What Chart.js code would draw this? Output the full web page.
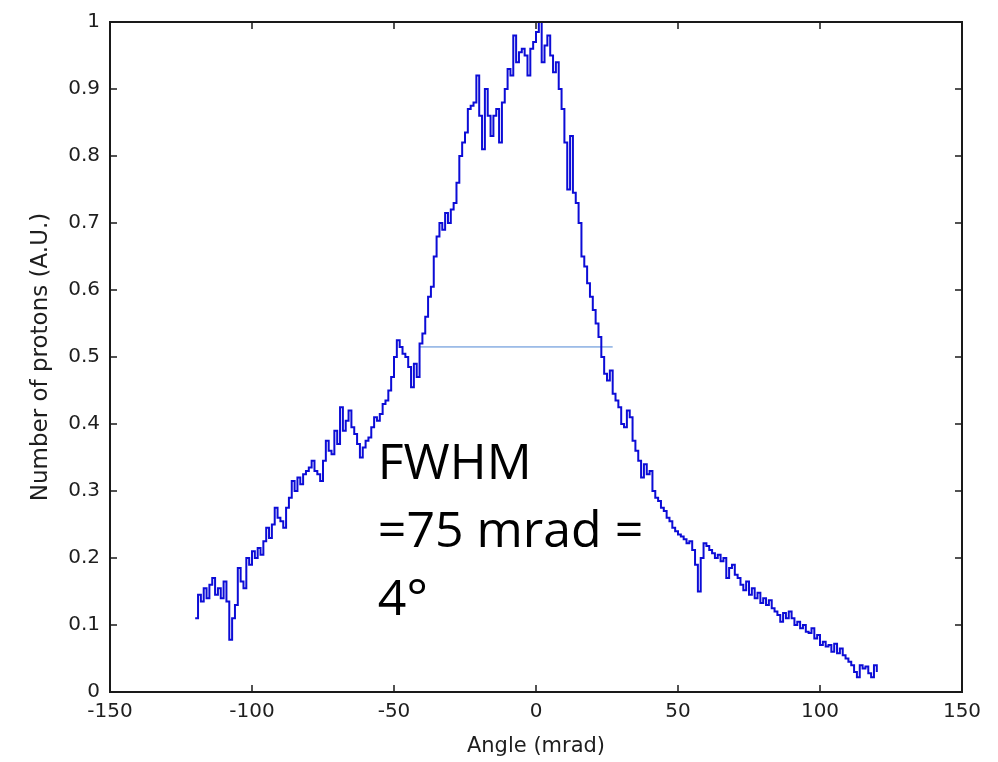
<!DOCTYPE html>
<html>
<head>
<meta charset="utf-8">
<script src="https://cdn.jsdelivr.net/npm/chart.js@4.4.1/dist/chart.umd.min.js"></script>
<style>
  html, body { margin: 0; padding: 0; background: #fff; }
  #wrap { width: 998px; height: 762px; position: relative; }
</style>
</head>
<body>
<div id="wrap"><canvas id="c" width="998" height="762"></canvas></div>
<script>
// Angular distribution of protons, 1 mrad steps from -120 to 120 mrad
const angleStart = -120;
const protonCounts = [
  0.110, 0.145, 0.135, 0.155, 0.140, 0.160, 0.170, 0.145, 0.155, 0.140,
  0.165, 0.135, 0.078, 0.110, 0.130, 0.185, 0.165, 0.155, 0.200, 0.190,
  0.210, 0.200, 0.215, 0.205, 0.225, 0.245, 0.230, 0.250, 0.275, 0.260,
  0.255, 0.245, 0.275, 0.290, 0.315, 0.300, 0.320, 0.310, 0.325, 0.330,
  0.335, 0.345, 0.330, 0.325, 0.315, 0.345, 0.375, 0.360, 0.355, 0.390,
  0.370, 0.425, 0.390, 0.405, 0.420, 0.395, 0.385, 0.370, 0.350, 0.365,
  0.375, 0.380, 0.395, 0.410, 0.405, 0.415, 0.430, 0.435, 0.450, 0.470,
  0.500, 0.525, 0.515, 0.505, 0.500, 0.485, 0.455, 0.490, 0.470, 0.520,
  0.535, 0.560, 0.590, 0.605, 0.650, 0.680, 0.700, 0.690, 0.715, 0.700,
  0.720, 0.730, 0.760, 0.800, 0.820, 0.835, 0.870, 0.875, 0.880, 0.920,
  0.860, 0.810, 0.900, 0.860, 0.830, 0.860, 0.870, 0.820, 0.880, 0.900,
  0.930, 0.920, 0.980, 0.940, 0.955, 0.960, 0.950, 0.920, 0.960, 0.970,
  0.985, 1.000, 0.940, 0.965, 0.980, 0.950, 0.925, 0.940, 0.900, 0.870,
  0.820, 0.750, 0.830, 0.745, 0.730, 0.700, 0.650, 0.635, 0.610, 0.590,
  0.570, 0.550, 0.530, 0.500, 0.475, 0.465, 0.480, 0.445, 0.435, 0.425,
  0.400, 0.395, 0.420, 0.410, 0.375, 0.360, 0.345, 0.320, 0.340, 0.325,
  0.330, 0.300, 0.290, 0.285, 0.275, 0.270, 0.260, 0.255, 0.245, 0.240,
  0.235, 0.232, 0.228, 0.222, 0.225, 0.212, 0.190, 0.150, 0.200, 0.222,
  0.218, 0.212, 0.207, 0.200, 0.205, 0.195, 0.200, 0.170, 0.185, 0.190,
  0.175, 0.170, 0.160, 0.152, 0.165, 0.145, 0.155, 0.140, 0.148, 0.133,
  0.140, 0.130, 0.137, 0.125, 0.120, 0.115, 0.105, 0.118, 0.110, 0.120,
  0.110, 0.100, 0.105, 0.095, 0.100, 0.090, 0.088, 0.095, 0.080, 0.085,
  0.070, 0.075, 0.068, 0.070, 0.060, 0.072, 0.058, 0.065, 0.055, 0.050,
  0.045, 0.040, 0.030, 0.022, 0.040, 0.035, 0.038, 0.028, 0.022, 0.040,
  0.030
];

// Half-maximum marker: angle range and level
const fwhmAngles = [-41, 27];
const fwhmLevel = 0.515;

// Axis tick values
const xTicks = [-150, -100, -50, 0, 50, 100, 150];
const yTicks = [0, 0.1, 0.2, 0.3, 0.4, 0.5, 0.6, 0.7, 0.8, 0.9, 1];

const noteLines = ['FWHM', '=75 mrad =', '4\u00B0'];

const profilePoints = protonCounts.map((v, i) => ({ x: angleStart + i, y: v }));
const fwhmPoints = fwhmAngles.map(a => ({ x: a, y: fwhmLevel }));

const tickFont = { family: '"DejaVu Sans", sans-serif', size: 20 };
const xTitleFont = { family: '"DejaVu Sans", sans-serif', size: 21 };
const yTitleFont = { family: '"DejaVu Sans", sans-serif', size: 23 };
const textColor = '#1e1e1e';

// Box frame with inward tick marks on all four sides, plus the FWHM note
const framePlugin = {
  id: 'frame',
  afterDatasetsDraw(chart) {
    const { ctx, chartArea: a, scales: { x, y } } = chart;
    ctx.save();
    ctx.strokeStyle = '#1a1a1a';
    ctx.lineWidth = 2;
    ctx.strokeRect(a.left, a.top, a.right - a.left, a.bottom - a.top);
    ctx.lineWidth = 1.5;
    const len = 7;
    ctx.beginPath();
    xTicks.forEach(t => {
      const px = Math.round(x.getPixelForValue(t));
      ctx.moveTo(px, a.bottom); ctx.lineTo(px, a.bottom - len);
      ctx.moveTo(px, a.top); ctx.lineTo(px, a.top + len);
    });
    yTicks.forEach(t => {
      const py = Math.round(y.getPixelForValue(t));
      ctx.moveTo(a.left, py); ctx.lineTo(a.left + len, py);
      ctx.moveTo(a.right, py); ctx.lineTo(a.right - len, py);
    });
    ctx.stroke();

    // annotation text
    ctx.fillStyle = '#000';
    ctx.font = '50px "Open Sans", sans-serif';
    ctx.textBaseline = 'alphabetic';
    ctx.textAlign = 'left';
    const left = x.getPixelForValue(-55.7);
    const base = y.getPixelForValue(0.318);
    noteLines.forEach((t, i) => ctx.fillText(t, left, base + i * 68));
    ctx.restore();
  }
};

new Chart(document.getElementById('c'), {
  type: 'line',
  data: {
    datasets: [
      {
        data: profilePoints,
        borderColor: '#0c0cd6',
        borderWidth: 2,
        pointRadius: 0,
        stepped: true,
        fill: false
      },
      {
        data: fwhmPoints,
        borderColor: '#4f86d4',
        borderWidth: 1,
        pointRadius: 0,
        fill: false
      }
    ]
  },
  options: {
    responsive: false,
    animation: false,
    layout: { padding: { left: 0, top: 22, right: 36, bottom: 0 } },
    plugins: { legend: { display: false }, tooltip: { enabled: false } },
    scales: {
      x: {
        type: 'linear',
        min: -150, max: 150,
        afterFit: s => { s.height = 70; },
        afterBuildTicks: s => { s.ticks = xTicks.map(v => ({ value: v })); },
        grid: { display: false, drawTicks: false },
        border: { display: false },
        ticks: { color: textColor, font: tickFont, padding: 8, maxRotation: 0 },
        title: { display: true, text: 'Angle (mrad)', color: textColor, font: xTitleFont, padding: { top: 4, bottom: 3 } }
      },
      y: {
        type: 'linear',
        min: 0, max: 1,
        afterFit: s => { s.width = 110; },
        afterBuildTicks: s => { s.ticks = yTicks.map(v => ({ value: v })); },
        grid: { display: false, drawTicks: false },
        border: { display: false },
        ticks: { color: textColor, font: tickFont, padding: 10, callback: v => String(+v.toFixed(1)) },
        title: { display: true, text: 'Number of protons (A.U.)', color: textColor, font: yTitleFont, padding: { top: 27, bottom: 0 } }
      }
    }
  },
  plugins: [framePlugin]
});
</script>
</body>
</html>
